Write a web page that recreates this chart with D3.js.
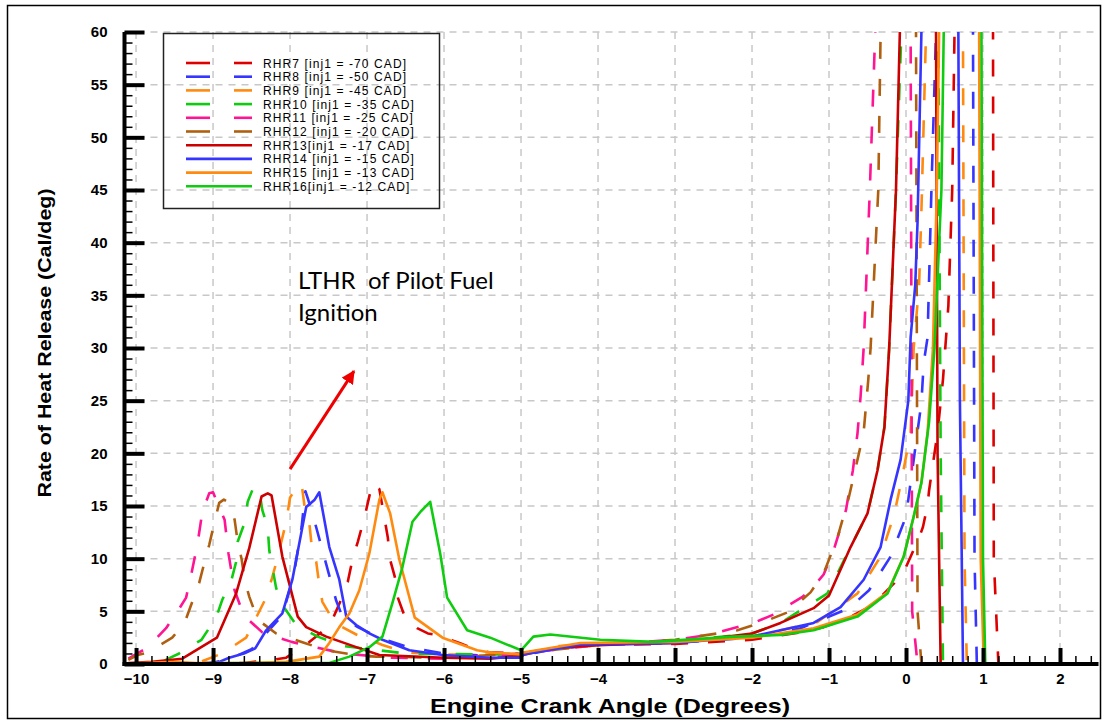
<!DOCTYPE html>
<html>
<head>
<meta charset="utf-8">
<script src="https://cdn.jsdelivr.net/npm/d3@7"></script>
<style>
  body { margin: 0; background: #fff; }
  svg { display: block; }
</style>
</head>
<body>
<svg id="chart" width="1103" height="721"></svg>
<script>
// Rate of heat release traces, [crank angle (deg), RHR (Cal/deg)]
const rhr7 = [[-10.1,0.05],[-8.6,0.1],[-8.23,0.4],[-8.05,0.6],[-7.8,1.8],[-7.51,3.5],[-7.45,4.2],[-7.32,6.4],[-7.25,7.8],[-7.19,9.9],[-7.12,11.6],[-7.03,14],[-6.99,15.3],[-6.93,17.2],[-6.84,16.6],[-6.77,13.7],[-6.73,12],[-6.7,9.9],[-6.64,8.3],[-6.6,6.3],[-6.51,4.5],[-6.35,3.4],[-6.21,2.9],[-6.12,2.8],[-5.8,2.0],[-5.56,1.3],[-5.4,1.1],[-5.0,1.0],[-4.5,1.5],[-4,1.8],[-3,1.9],[-2,2.3],[-1.37,3.0],[-1.07,3.5],[-0.74,4.4],[-0.43,5.6],[-0.15,7.7],[0,9.2],[0.17,12],[0.22,13],[0.28,15.1],[0.3,16.5],[0.41,22],[0.48,27],[0.55,34],[0.6,45],[0.63,60],[0.65,70],[1.12,70],[1.13,60],[1.14,10],[1.2,0]];
const rhr8 = [[-10.1,0],[-9.0,0.1],[-8.75,0.6],[-8.5,1.4],[-8.3,3.0],[-8.1,4.6],[-7.95,8.5],[-7.85,13],[-7.8,16.4],[-7.72,14.6],[-7.55,10],[-7.4,6],[-7.32,4.5],[-7.12,3.5],[-6.84,2.5],[-6.47,1.6],[-6,1.0],[-5.5,0.8],[-5,0.8],[-4.5,1.5],[-4,1.8],[-3,2.0],[-2,2.5],[-1.37,3.4],[-1.1,4.2],[-0.74,5.3],[-0.48,7.0],[-0.2,10.2],[0,14],[0.2,24.8],[0.23,28.6],[0.28,31],[0.33,45],[0.39,60],[0.41,70],[0.86,70],[0.87,60],[0.89,10],[0.92,0]];
const rhr9 = [[-10.1,0],[-9.2,0.1],[-8.88,1.0],[-8.57,2.5],[-8.42,4.7],[-8.31,6.3],[-8.24,8],[-8.18,9.6],[-8.1,12],[-8.05,13.5],[-8.0,15.8],[-7.9,17.0],[-7.85,17.1],[-7.81,14.9],[-7.75,13.4],[-7.72,11.3],[-7.66,9.7],[-7.62,7.5],[-7.58,5.9],[-7.42,3.9],[-7.14,2.8],[-6.8,1.8],[-6.48,1.1],[-6,0.9],[-5,0.9],[-4.5,1.7],[-4,1.9],[-3,2.1],[-2,2.6],[-1.15,4.0],[-0.63,6.7],[-0.33,10.2],[-0.15,14.3],[-0.04,18.1],[0.06,22],[0.1,30],[0.17,36],[0.2,43],[0.26,60],[0.28,70],[0.73,70],[0.74,60],[0.76,10],[0.79,0]];
const rhr10 = [[-10.1,0],[-9.7,0.1],[-9.44,1.0],[-9.15,2.3],[-8.96,4.4],[-8.88,6.1],[-8.76,8],[-8.7,9.7],[-8.68,11.6],[-8.59,13.4],[-8.55,15.4],[-8.49,16.5],[-8.45,16.8],[-8.4,16.5],[-8.36,14.6],[-8.29,13],[-8.27,10.8],[-8.23,9.2],[-8.18,7.2],[-8.1,5.6],[-7.92,3.7],[-7.64,2.6],[-7.3,1.7],[-6.5,1.0],[-5.5,0.9],[-5,1.0],[-4.5,1.6],[-4,1.9],[-3,2.1],[-2,2.9],[-1.63,3.9],[-1.02,6.7],[-0.72,11.1],[-0.5,14.3],[-0.37,18.4],[-0.28,22.5],[-0.22,29.8],[-0.13,45],[-0.06,60],[-0.04,70],[0.41,70],[0.42,60],[0.45,20],[0.48,0]];
const rhr11 = [[-10.1,0.5],[-9.96,1.1],[-9.86,1.5],[-9.61,3.4],[-9.47,4.9],[-9.35,6.3],[-9.28,8.6],[-9.2,11.5],[-9.14,14.4],[-9.05,16.2],[-9.0,16.3],[-8.95,15.4],[-8.85,13.7],[-8.8,10.5],[-8.72,7],[-8.6,4.6],[-8.36,3.0],[-7.98,2.1],[-7.81,1.8],[-7.3,1.0],[-6.7,0.6],[-6,0.5],[-5,1.0],[-4,1.8],[-3,2.3],[-2.58,2.75],[-2.45,3.0],[-1.98,3.9],[-1.72,4.7],[-1.34,6.4],[-1.24,7.0],[-1.07,8.5],[-0.94,10.8],[-0.78,14.6],[-0.69,18.4],[-0.63,21.9],[-0.59,25.4],[-0.55,30],[-0.47,45],[-0.40,60],[-0.38,70],[0.05,70],[0.06,60],[0.08,5],[0.15,0]];
const rhr12 = [[-10.1,0.4],[-9.98,0.85],[-9.86,1.05],[-9.53,2.5],[-9.37,3.9],[-9.27,5.9],[-9.18,7.7],[-9.11,9.7],[-9.05,11.3],[-8.98,13.5],[-8.92,15.3],[-8.86,15.6],[-8.79,15.3],[-8.72,13.7],[-8.68,11.6],[-8.63,10],[-8.59,8],[-8.53,6.4],[-8.42,4.2],[-8.18,2.9],[-7.81,2.0],[-7.53,1.3],[-7.1,0.8],[-6.88,0.7],[-6,0.6],[-5,1.0],[-4,1.8],[-3,2.3],[-2.45,2.9],[-2.19,3.2],[-1.85,4.0],[-1.54,4.9],[-1.24,6.8],[-1.07,8.6],[-0.89,12],[-0.74,15.9],[-0.63,19.4],[-0.55,22],[-0.49,27],[-0.46,30],[-0.36,45],[-0.33,60],[-0.31,70],[0.12,70],[0.13,60],[0.15,5],[0.2,0]];
const rhr13 = [[-10.1,0.1],[-9.79,0.2],[-9.4,0.5],[-8.95,2.5],[-8.7,6.7],[-8.53,11.0],[-8.37,15.9],[-8.29,16.2],[-8.24,16.0],[-8.1,10.2],[-7.9,4.5],[-7.79,3.5],[-7.53,2.6],[-7.14,1.6],[-6.84,0.85],[-6.0,0.6],[-5.4,0.5],[-5.0,0.8],[-4.6,1.5],[-3.97,1.8],[-3,2.0],[-2,2.9],[-1.63,3.9],[-1.2,5.3],[-1.0,6.5],[-0.72,11.1],[-0.5,14.3],[-0.37,18.4],[-0.28,22.5],[-0.22,29.8],[-0.13,45],[-0.08,60],[-0.06,70],[0.38,70],[0.39,60],[0.41,20],[0.45,0]];
const rhr14 = [[-10.1,0],[-9.05,0.1],[-8.92,0.2],[-8.79,0.6],[-8.6,1.0],[-8.45,1.5],[-8.31,3.2],[-8.1,4.8],[-7.97,8.0],[-7.79,14.9],[-7.68,15.6],[-7.62,16.3],[-7.49,11.1],[-7.36,8.0],[-7.27,4.5],[-7.14,3.7],[-6.97,2.9],[-6.8,2.3],[-6.45,1.3],[-6.02,0.85],[-5.4,0.6],[-5.0,0.6],[-4.97,0.9],[-4.23,1.85],[-3,2.0],[-2,2.6],[-1.63,3.2],[-1.2,3.9],[-0.85,5.4],[-0.55,8.0],[-0.33,11.1],[-0.2,15.6],[-0.07,19.4],[0.03,25],[0.06,31],[0.12,36],[0.15,42],[0.2,60],[0.22,70],[0.67,70],[0.68,60],[0.7,25],[0.74,0]];
const rhr15 = [[-10.1,0.05],[-9.48,0.2],[-9.22,0.1],[-8.5,0.1],[-8.05,0.2],[-7.62,0.7],[-7.49,2.0],[-7.36,3.5],[-7.23,4.8],[-7.1,7.0],[-6.97,10.5],[-6.84,15.6],[-6.8,16.3],[-6.7,14.3],[-6.58,9.9],[-6.38,4.4],[-6.02,2.5],[-5.57,1.3],[-5.4,1.1],[-5.0,0.9],[-4.97,1.1],[-4.23,2.0],[-3,2.1],[-2,2.5],[-1.2,3.4],[-0.63,4.7],[-0.24,6.8],[-0.03,10.2],[0.1,14],[0.2,17.2],[0.28,22],[0.35,30],[0.4,45],[0.43,60],[0.45,70],[0.94,70],[0.95,60],[0.97,10],[1.01,0]];
const rhr16 = [[-10.1,0.05],[-7.49,0.1],[-7.23,0.7],[-6.97,1.6],[-6.8,2.6],[-6.67,5.8],[-6.54,9.2],[-6.41,13.5],[-6.3,14.5],[-6.18,15.4],[-6.05,10.5],[-5.96,6.3],[-5.7,3.2],[-5.4,2.5],[-5.0,1.3],[-4.84,2.6],[-4.62,2.8],[-3.97,2.3],[-3.28,2.1],[-2.24,2.6],[-1.63,2.75],[-1.2,3.2],[-0.63,4.5],[-0.24,6.7],[-0.03,10.2],[0.1,14],[0.2,17.2],[0.3,23],[0.37,30],[0.46,45],[0.49,60],[0.51,70],[0.97,70],[0.98,60],[1.0,10],[1.03,0]];

const seriesData = [rhr7, rhr8, rhr9, rhr10, rhr11, rhr12, rhr13, rhr14, rhr15, rhr16];
const seriesLabels = [
  "RHR7 [inj1 = -70 CAD]", "RHR8 [inj1 = -50 CAD]", "RHR9 [inj1 = -45 CAD]",
  "RHR10 [inj1 = -35 CAD]", "RHR11 [inj1 = -25 CAD]", "RHR12 [inj1 = -20 CAD]",
  "RHR13[inj1 = -17 CAD]", "RHR14 [inj1 = -15 CAD]", "RHR15 [inj1 = -13 CAD]",
  "RHR16[inj1 = -12 CAD]"
];
const xMajorTicks = [-10, -9, -8, -7, -6, -5, -4, -3, -2, -1, 0, 1, 2];
const yMajorTicks = [0, 5, 10, 15, 20, 25, 30, 35, 40, 45, 50, 55, 60];
const annotationLines = ["LTHR  of Pilot Fuel", "Ignition"];

// Styling
const colors = ["#dd0000", "#3535ff", "#ff8a10", "#10cc10", "#ff1493", "#b05f10",
                "#cc0000", "#3535ff", "#ff8a10", "#10cc10"];
const dashed = [true, true, true, true, true, true, false, false, false, false];

const svg = d3.select("#chart");
const W = 1103, H = 721;
const plot = { left: 124.5, right: 1098.5, top: 32, bottom: 664 };

const x = d3.scaleLinear().domain([-10.15, 2.5]).range([plot.left, plot.right]);
const y = d3.scaleLinear().domain([0, 60]).range([plot.bottom, plot.top]);

svg.append("rect").attr("width", W).attr("height", H).attr("fill", "#fff");
// outer frame
svg.append("rect").attr("x", 7.5).attr("y", 5.5).attr("width", W - 10).attr("height", H - 8)
  .attr("fill", "none").attr("stroke", "#000").attr("stroke-width", 1.5);

// grid
const grid = svg.append("g").attr("stroke", "#c8c8c8").attr("stroke-width", 1.5)
  .attr("stroke-dasharray", "7,6");
grid.selectAll(".gx").data(xMajorTicks).join("line")
  .attr("x1", d => x(d)).attr("x2", d => x(d))
  .attr("y1", plot.top).attr("y2", plot.bottom);
grid.selectAll(".gy").data(yMajorTicks.filter(d => d > 0)).join("line")
  .attr("x1", plot.left).attr("x2", plot.right)
  .attr("y1", d => y(d)).attr("y2", d => y(d));

// data lines
svg.append("defs").append("clipPath").attr("id", "plotClip")
  .append("rect").attr("x", plot.left).attr("y", plot.top)
  .attr("width", plot.right - plot.left).attr("height", plot.bottom - plot.top);

const line = d3.line().x(d => x(d[0])).y(d => y(d[1]));
svg.append("g").attr("clip-path", "url(#plotClip)")
  .selectAll("path").data(seriesData).join("path")
  .attr("d", line)
  .attr("fill", "none")
  .attr("stroke", (d, i) => colors[i])
  .attr("stroke-width", 2.6)
  .attr("stroke-linejoin", "round")
  .attr("stroke-dasharray", (d, i) => dashed[i] ? "17,20" : null);

// axes
const tickFont = "bold 15px 'Liberation Sans', Arial, sans-serif";
const yMinor = d3.range(0, 61, 1).filter(v => v % 5 !== 0);
const xMinor = d3.range(-50, 13, 1).map(v => v / 5).filter(v => Math.abs(v - Math.round(v)) > 1e-6 && v > -10.15);

const yAxis = svg.append("g").attr("transform", `translate(${plot.left},0)`)
  .call(d3.axisLeft(y).tickValues(yMajorTicks).tickSize(-20).tickPadding(17).tickFormat(d3.format("d")));
yAxis.select(".domain").attr("stroke-width", 4).attr("d", `M0,${plot.top}V${plot.bottom + 2}`);
yAxis.selectAll(".tick line").attr("stroke-width", 4);
yAxis.selectAll(".tick text").style("font", tickFont).attr("fill", "#000");

svg.append("g").attr("transform", `translate(${plot.left},0)`)
  .call(d3.axisLeft(y).tickValues(yMinor).tickSize(-8).tickFormat(""))
  .call(g => g.select(".domain").remove())
  .selectAll(".tick line").attr("stroke-width", 1.5);

const xAxis = svg.append("g").attr("transform", `translate(0,${plot.bottom})`)
  .call(d3.axisBottom(x).tickValues(xMajorTicks).tickSize(-16).tickPadding(9).tickFormat(d3.format("d")));
xAxis.select(".domain").attr("stroke-width", 4).attr("d", `M${plot.left - 2},0H${plot.right}`);
xAxis.selectAll(".tick line").attr("stroke-width", 4);
xAxis.selectAll(".tick text").style("font", tickFont).attr("fill", "#000");

svg.append("g").attr("transform", `translate(0,${plot.bottom})`)
  .call(d3.axisBottom(x).tickValues(xMinor).tickSize(-8).tickFormat(""))
  .call(g => g.select(".domain").remove())
  .selectAll(".tick line").attr("stroke-width", 1.5);

// axis titles
svg.append("text")
  .attr("transform", `translate(51,343) rotate(-90)`)
  .attr("text-anchor", "middle")
  .attr("textLength", 309).attr("lengthAdjust", "spacingAndGlyphs")
  .style("font", "bold 18px 'Liberation Sans', Arial, sans-serif")
  .text("Rate of Heat Release (Cal/deg)");
svg.append("text")
  .attr("x", 610).attr("y", 713)
  .attr("text-anchor", "middle")
  .attr("textLength", 360).attr("lengthAdjust", "spacingAndGlyphs")
  .style("font", "bold 21px 'Liberation Sans', Arial, sans-serif")
  .text("Engine Crank Angle (Degrees)");

// legend
const legend = svg.append("g");
legend.append("rect").attr("x", 163.5).attr("y", 33.5).attr("width", 276).attr("height", 175)
  .attr("fill", "none").attr("stroke", "#222").attr("stroke-width", 1.5);
const rowY = i => 63 + i * 13.7;
seriesLabels.forEach((label, i) => {
  const g = legend.append("g").attr("stroke", colors[i]).attr("stroke-width", 2.6);
  if (dashed[i]) {
    g.append("line").attr("x1", 186).attr("x2", 210).attr("y1", rowY(i)).attr("y2", rowY(i));
    g.append("line").attr("x1", 234).attr("x2", 252).attr("y1", rowY(i)).attr("y2", rowY(i));
  } else {
    g.append("line").attr("x1", 186).attr("x2", 252).attr("y1", rowY(i)).attr("y2", rowY(i));
  }
  legend.append("text").attr("x", 263).attr("y", rowY(i) + 4.5)
    .style("font", "12px 'Liberation Sans', Arial, sans-serif")
    .style("letter-spacing", "1.1px").attr("fill", "#000")
    .text(label);
});

// annotation
const ann = svg.append("g");
annotationLines.forEach((t, i) => {
  ann.append("text").attr("x", 298).attr("y", 289 + i * 32)
    .attr("xml:space", "preserve").style("white-space", "pre")
    .style("font", "24px Lato, 'Open Sans', sans-serif").attr("fill", "#000").text(t);
});
svg.select("defs").append("marker").attr("id", "arrowHead")
  .attr("viewBox", "0 0 10 10").attr("refX", 9).attr("refY", 5)
  .attr("markerWidth", 4.5).attr("markerHeight", 4.5).attr("orient", "auto")
  .append("path").attr("d", "M0,0L10,5L0,10Z").attr("fill", "#ee0000");
ann.append("line")
  .attr("x1", x(-8.0)).attr("y1", y(18.5))
  .attr("x2", x(-7.17)).attr("y2", y(27.8))
  .attr("stroke", "#ee0000").attr("stroke-width", 3)
  .attr("marker-end", "url(#arrowHead)");
</script>
</body>
</html>
